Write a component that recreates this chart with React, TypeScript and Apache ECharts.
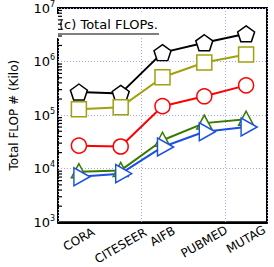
import React, { useEffect, useRef } from "react";
import * as echarts from "echarts";

const categories = ["CORA", "CITESEER", "AIFB", "PUBMED", "MUTAG"];
const seriesNames = ["S1", "S2", "S3", "S4", "S5"];
const blackValues = [2.7e5, 2.55e5, 1.47e6, 2.25e6, 3.3e6];
const oliveValues = [1.29e5, 1.41e5, 5.1e5, 9.6e5, 1.35e6];
const redValues = [2.7e4, 2.6e4, 1.47e5, 2.25e5, 3.6e5];
const greenValues = [8.8e3, 9.3e3, 3.4e4, 7.1e4, 8.4e4];
const blueValues = [7.1e3, 8.1e3, 2.55e4, 4.9e4, 6.0e4];
const minorTickValues = [
  2e3, 3e3, 4e3, 5e3, 6e3, 7e3, 8e3, 9e3,
  2e4, 3e4, 4e4, 5e4, 6e4, 7e4, 8e4, 9e4,
  2e5, 3e5, 4e5, 5e5, 6e5, 7e5, 8e5, 9e5,
  2e6, 3e6, 4e6, 5e6, 6e6, 7e6, 8e6, 9e6,
];
const titleText = "(c) Total FLOPs.";
const yAxisName = "Total FLOP # (Kilo)";

const FONT = "DejaVu Sans";
const pentagon =
  "path://M0,-10 L9.51,-3.09 L5.88,8.09 L-5.88,8.09 L-9.51,-3.09 Z";

// label distance from the axis per category (rotated labels hang from a common top line)
const labelMargins = [17, 23.5, 14, 19.5, 17];

export default function App() {
  const ref = useRef<HTMLDivElement>(null);
  useEffect(() => {
    if (!ref.current) return;
    document.body.style.margin = "0";
    const chart = echarts.init(ref.current, null, { renderer: "svg" });
    const mk = (
      name: string,
      data: number[],
      color: string,
      symbol: string,
      size: number | number[],
      rotate = 0,
      offset: number[] = [0, 0]
    ) => ({
      name,
      type: "line",
      xAxisIndex: 0,
      data,
      symbol,
      symbolSize: size,
      symbolRotate: rotate,
      symbolOffset: offset,
      showAllSymbol: true,
      lineStyle: { color, width: 2 },
      itemStyle: { color: "#ffffff", borderColor: color, borderWidth: 1.5 },
      emphasis: { disabled: true },
      z: 3,
    });
    const labelAxes = labelMargins.map((m, k) => ({
      type: "category",
      data: categories,
      position: "bottom",
      boundaryGap: true,
      axisLine: { show: false },
      axisTick: { show: false },
      splitLine: { show: false },
      axisLabel: {
        show: true,
        rotate: 30,
        align: "center",
        verticalAlign: "middle",
        margin: m,
        fontSize: 12,
        fontFamily: FONT,
        color: "#000",
        interval: 0,
        formatter: (v: string, i: number) => (i === k ? v : ""),
      },
    }));
    chart.setOption({
      animation: false,
      grid: {
        left: 50,
        right: 7,
        top: 7,
        bottom: 44,
        show: true,
        borderColor: "#000",
        borderWidth: 2,
        backgroundColor: "transparent",
      },
      xAxis: [
        {
          type: "category",
          data: categories,
          position: "bottom",
          boundaryGap: true,
          axisLine: { lineStyle: { color: "#000", width: 2 } },
          axisTick: { inside: true, length: 6, lineStyle: { color: "#000", width: 2 } },
          splitLine: { show: true, lineStyle: { color: "#a8a8ff", type: [1, 2], width: 1 } },
          axisLabel: { show: false },
        },
        ...labelAxes,
      ],
      yAxis: {
        type: "log",
        logBase: 10,
        min: 1e3,
        max: 1e7,
        name: yAxisName,
        nameLocation: "middle",
        nameGap: 38,
        nameTextStyle: { fontSize: 12, fontFamily: FONT, color: "#000" },
        axisLine: { lineStyle: { color: "#000", width: 2 } },
        axisTick: { inside: true, length: 7, lineStyle: { color: "#000", width: 1.5 } },
        splitLine: { show: true, lineStyle: { color: "#a8a8ff", type: [1, 2], width: 1 } },
        axisLabel: {
          margin: 3,
          formatter: (v: number) => `{b|10}{s|${Math.round(Math.log10(v))}}`,
          rich: {
            b: { fontSize: 13, fontFamily: FONT, color: "#000", lineHeight: 16 },
            s: { fontSize: 8, fontFamily: FONT, color: "#000", lineHeight: 8, verticalAlign: "top" },
          },
        },
      },
      graphic: [
        {
          type: "rect",
          shape: { x: 55, y: 14, width: 108, height: 24 },
          style: { fill: "#fff" },
          z: 2,
        },
        {
          type: "text",
          x: 59,
          y: 18,
          style: { text: titleText, fontSize: 13, fontFamily: FONT, fill: "#000" },
          z: 4,
        },
        {
          type: "line",
          shape: { x1: 58, y1: 34, x2: 159, y2: 34 },
          style: { stroke: "#555", lineWidth: 1.5 },
          z: 4,
        },
      ],
      series: [
        {
          type: "custom",
          xAxisIndex: 0,
          data: minorTickValues.map((v) => [0, v]),
          renderItem: (params: any, api: any) => {
            const p = api.coord([0, api.value(1)]);
            const x0 = params.coordSys.x;
            return {
              type: "line",
              shape: { x1: x0, y1: p[1], x2: x0 + 4, y2: p[1] },
              style: { stroke: "#000", lineWidth: 1.2 },
            };
          },
          silent: true,
          z: 5,
        },
        mk(seriesNames[0], blackValues, "#000000", pentagon, [17, 16]),
        mk(seriesNames[1], oliveValues, "#a0a010", "rect", 15),
        mk(seriesNames[2], redValues, "#ff0000", "circle", 15),
        mk(seriesNames[3], greenValues, "#3a7a00", "triangle", [15, 14], 0, [0, -1]),
        mk(seriesNames[4], blueValues, "#1a4fe6", "triangle", [18, 16], -90, [3, 0]),
      ],
    });
    return () => chart.dispose();
  }, []);
  return <div ref={ref} style={{ width: 274, height: 267 }} />;
}
